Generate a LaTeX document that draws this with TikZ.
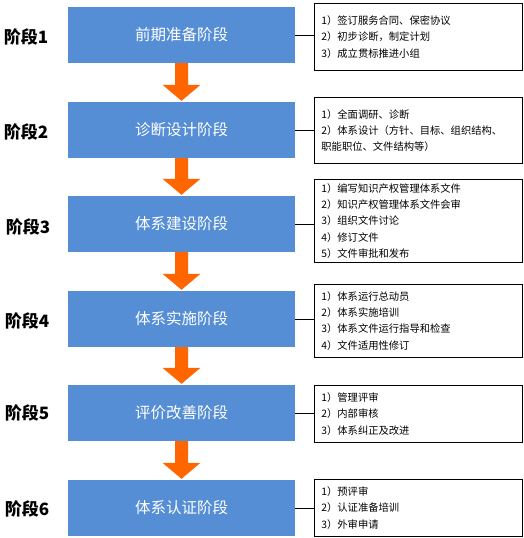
\documentclass[tikz,border=0pt]{standalone}
\usepackage{fontspec}
\setmainfont{Noto Sans CJK SC}
\usetikzlibrary{calc}
\definecolor{stageblue}{HTML}{558ED5}
\definecolor{arrorange}{HTML}{FF6600}
\tikzset{
  stagebox/.style={fill=stageblue, draw=none, minimum width=227pt, minimum height=56pt,
    inner sep=0pt, text=white, font=\fontsize{15.5}{18}\selectfont},
  stagelabel/.style={font=\bfseries\fontsize{17}{20}\selectfont, inner sep=0pt},
  notebox/.style={draw=black, line width=0.8pt, anchor=north west, text width=194pt,
    inner xsep=7pt, inner ysep=0pt, align=left, font=\fontsize{10.3}{16.3}\selectfont},
  link/.style={draw=black, line width=0.8pt},
  flowarrow/.style={fill=arrorange, draw=none}
}
\begin{document}
\begin{tikzpicture}[x=1pt,y=-1pt]
\useasboundingbox (0,0) rectangle (524,538);

% stage boxes
\node[stagebox] (s1) at (181.5,35) {前期准备阶段};
\node[stagebox] (s2) at (181.5,130) {诊断设计阶段};
\node[stagebox] (s3) at (181.5,224) {体系建设阶段};
\node[stagebox] (s4) at (181.5,319) {体系实施阶段};
\node[stagebox] (s5) at (181.5,413) {评价改善阶段};
\node[stagebox] (s6) at (181.5,508) {体系认证阶段};

% stage labels
\node[stagelabel] (l1) at (26,37) {阶段1};
\node[stagelabel] (l2) at (26,132) {阶段2};
\node[stagelabel] (l3) at (28,227) {阶段3};
\node[stagelabel] (l4) at (27,321) {阶段4};
\node[stagelabel] (l5) at (27,413) {阶段5};
\node[stagelabel] (l6) at (27,509) {阶段6};

% note boxes
\node[notebox, minimum height=67pt] (n1) at (314,3)
  {1）签订服务合同、保密协议\\2）初步诊断，制定计划\\3）成立贯标推进小组};
\node[notebox, minimum height=66pt] (n2) at (314,97)
  {1）全面调研、诊断\\2）体系设计（方针、目标、组织结构、\\职能职位、文件结构等）};
\node[notebox, minimum height=83pt] (n3) at (314,179)
  {1）编写知识产权管理体系文件\\2）知识产权管理体系文件会审\\3）组织文件讨论\\4）修订文件\\5）文件审批和发布};
\node[notebox, minimum height=73pt] (n4) at (314,284)
  {1）体系运行总动员\\2）体系实施培训\\3）体系文件运行指导和检查\\4）文件适用性修订};
\node[notebox, minimum height=57pt] (n5) at (314,385)
  {1）管理评审\\2）内部审核\\3）体系纠正及改进};
\node[notebox, minimum height=57pt] (n6) at (314,479)
  {1）预评审\\2）认证准备培训\\3）外审申请};

% connectors
\foreach \i in {1,...,6}{
  \draw[link] (s\i.east) -- (s\i.east -| n\i.west);
}

% orange arrows
\foreach \a/\b in {s1/s2,s2/s3,s3/s4,s4/s5,s5/s6}{
  \fill[flowarrow] ($(\a.south)+(-6.5,0)$) -- ($(\a.south)+(6.5,0)$)
    -- ($(\b.north)+(6.5,-17)$) -- ($(\b.north)+(19,-17)$)
    -- ($(\b.north)+(0,-1)$) -- ($(\b.north)+(-19,-17)$)
    -- ($(\b.north)+(-6.5,-17)$) -- cycle;
}
\end{tikzpicture}
\end{document}
